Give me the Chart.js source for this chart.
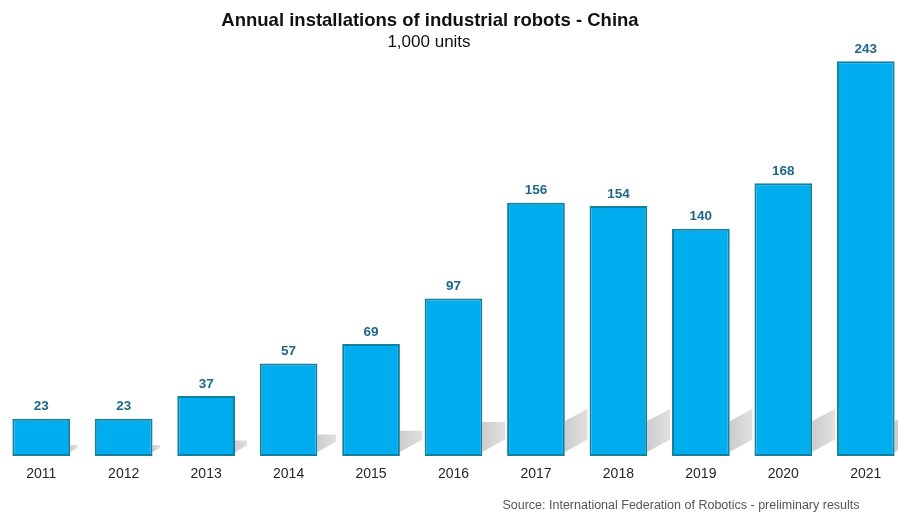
<!DOCTYPE html>
<html>
<head>
<meta charset="utf-8">
<script src="https://cdn.jsdelivr.net/npm/chart.js@4/dist/chart.umd.min.js"></script>
<style>
  html, body { margin: 0; padding: 0; background: #ffffff; overflow: hidden; }
  #wrap { position: relative; width: 898px; height: 512px; overflow: hidden; }
  #robots { position: absolute; left: 0; top: 0; }
</style>
</head>
<body>
<div id="wrap"><canvas id="robots" width="907" height="512"></canvas></div>
<script>
// Annual installations of industrial robots in China, thousands of units
const years = ['2011', '2012', '2013', '2014', '2015', '2016', '2017', '2018', '2019', '2020', '2021'];
const installations = [23, 23, 37, 57, 69, 97, 156, 154, 140, 168, 243];

const titleText = 'Annual installations of industrial robots - China';
const subtitleText = '1,000 units';
const sourceText = 'Source: International Federation of Robotics - preliminary results';

const FONT = '"Liberation Sans", Arial, Helvetica, sans-serif';

// Grey floor shadows cast behind each column
const floorShadows = {
  id: 'floorShadows',
  beforeDatasetsDraw(chart) {
    const bars = chart.getDatasetMeta(0).data;
    const ctx = chart.ctx;
    ctx.save();
    bars.forEach((bar, i) => {
      const p = bar.getProps(['x', 'y', 'base', 'width'], true);
      const xr = p.x + p.width / 2;
      const B = p.base - 4;
      const H = p.base - p.y;
      let room = 22;
      if (i + 1 < bars.length) {
        const n = bars[i + 1].getProps(['x', 'width'], true);
        room = (n.x - n.width / 2) - xr - 2;
      }
      const w = Math.min(H * 0.2, room);
      const h = Math.min(H * 0.19, 31);
      const extra = Math.min(Math.max(0, H * 0.19 - 31), 12);
      const rise = w * 0.55;
      const g = ctx.createLinearGradient(xr, 0, xr + w, 0);
      g.addColorStop(0, '#cccccc');
      g.addColorStop(1, '#e0e0e0');
      ctx.fillStyle = g;
      ctx.beginPath();
      ctx.moveTo(xr, B);
      ctx.lineTo(xr + w, B - Math.min(rise, h + extra));
      ctx.lineTo(xr + w, B - h - extra);
      ctx.lineTo(xr, B - h);
      ctx.closePath();
      ctx.fill();
    });
    ctx.restore();
  }
};

// Value printed above each column
const valueLabels = {
  id: 'valueLabels',
  afterDatasetsDraw(chart) {
    const ctx = chart.ctx;
    const values = chart.data.datasets[0].data;
    ctx.save();
    ctx.font = 'bold 13.5px ' + FONT;
    ctx.fillStyle = '#1d6888';
    ctx.textAlign = 'center';
    ctx.textBaseline = 'middle';
    chart.getDatasetMeta(0).data.forEach((bar, i) => {
      const p = bar.getProps(['x', 'y'], true);
      ctx.fillText(String(values[i]), p.x, p.y - 12);
    });
    ctx.restore();
  }
};

// Heading, unit line and source note
const captions = {
  id: 'captions',
  afterDraw(chart) {
    const ctx = chart.ctx;
    ctx.save();
    ctx.textAlign = 'center';
    ctx.textBaseline = 'alphabetic';
    ctx.fillStyle = '#111111';
    ctx.font = 'bold 18.5px ' + FONT;
    ctx.fillText(titleText, 430, 26);
    ctx.font = '17px ' + FONT;
    ctx.fillText(subtitleText, 429, 47);
    ctx.fillStyle = '#555555';
    ctx.font = '12.5px ' + FONT;
    ctx.fillText(sourceText, 681, 509);
    ctx.restore();
  }
};

new Chart(document.getElementById('robots'), {
  type: 'bar',
  data: {
    labels: years,
    datasets: [{
      data: installations,
      backgroundColor: '#00adef',
      borderColor: '#11819f',
      borderWidth: 2,
      borderSkipped: false,
      categoryPercentage: 1,
      barPercentage: 0.7
    }]
  },
  options: {
    responsive: false,
    devicePixelRatio: 1,
    animation: false,
    layout: { padding: { top: 50, left: 0, right: 0, bottom: 0 } },
    plugins: {
      legend: { display: false },
      title: { display: false },
      tooltip: { enabled: false }
    },
    scales: {
      x: {
        grid: { display: false, drawTicks: false },
        border: { display: false },
        ticks: {
          color: '#262626',
          font: { family: FONT, size: 14 },
          padding: 10,
          maxRotation: 0,
          autoSkip: false
        },
        afterFit(scale) { scale.height = 56; }
      },
      y: {
        display: false,
        min: 0,
        max: 250
      }
    }
  },
  plugins: [floorShadows, valueLabels, captions]
});
</script>
</body>
</html>
